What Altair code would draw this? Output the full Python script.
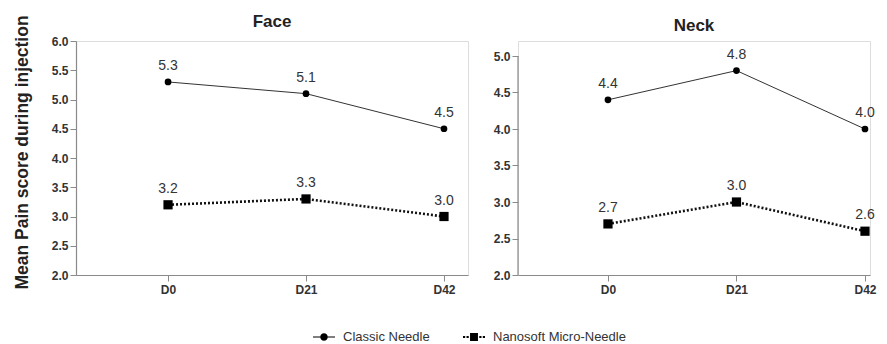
import altair as alt
import pandas as pd

days = ["D0", "D21", "D42"]
series = ["Classic Needle", "Nanosoft Micro-Needle"]
face_classic = [5.3, 5.1, 4.5]
face_nano = [3.2, 3.3, 3.0]
neck_classic = [4.4, 4.8, 4.0]
neck_nano = [2.7, 3.0, 2.6]
face_ticks = [2.0, 2.5, 3.0, 3.5, 4.0, 4.5, 5.0, 5.5, 6.0]
neck_ticks = [2.0, 2.5, 3.0, 3.5, 4.0, 4.5, 5.0]

FONT = "Liberation Sans"
AXIS_COL = "#8a8a8a"
LINE_COL = "#333333"


def frame(classic, nano):
    rows = []
    for i, d in enumerate(days):
        rows.append({"pos": i, "day": d, "series": series[0], "value": classic[i]})
        rows.append({"pos": i, "day": d, "series": series[1], "value": nano[i]})
    return pd.DataFrame(rows)


label_expr = "[" + ",".join("'%s'" % d for d in days) + "][datum.value]"


def panel(df, title, ticks, width, height, xdom, ydom, ytitle, axis_line_rule, legend_layer,
          title_offset):
    x = alt.X("pos:Q", scale=alt.Scale(domain=xdom, nice=False, zero=False),
              axis=alt.Axis(values=list(range(len(days))), labelExpr=label_expr, title=None,
                            grid=False, domainColor=AXIS_COL, tickColor=AXIS_COL, tickSize=6,
                            labelFont=FONT, labelFontWeight="bold", labelFontSize=12,
                            labelColor="#333", labelPadding=3, domainWidth=1.2))
    y = alt.Y("value:Q", scale=alt.Scale(domain=ydom, nice=False, zero=False),
              axis=alt.Axis(values=ticks, format=".1f", title=ytitle, grid=False,
                            domain=not axis_line_rule, domainColor=AXIS_COL, tickColor=AXIS_COL,
                            tickSize=6, labelFont=FONT, labelFontWeight="bold", labelFontSize=12,
                            labelColor="#333", labelPadding=2, domainWidth=1.2,
                            labelOverlap=False,
                            titleFont=FONT, titleFontSize=17.5, titleFontWeight="bold",
                            titleColor="#222", titlePadding=19.5, titleY=111))
    base = alt.Chart(df).encode(x=x, y=y)
    layers = [
        base.transform_filter(alt.datum.series == series[0]).mark_line(color=LINE_COL, strokeWidth=1),
        base.transform_filter(alt.datum.series == series[1]).mark_line(
            color="#111", strokeWidth=2.6, strokeDash=[2, 2]),
        base.transform_filter(alt.datum.series == series[0]).mark_point(
            shape="circle", filled=True, color="black", size=45, opacity=1),
        base.transform_filter(alt.datum.series == series[1]).mark_point(
            shape="square", filled=True, color="black", size=85, opacity=1),
        base.mark_text(dy=-16, font=FONT, fontSize=14, color="#333").encode(
            text=alt.Text("value:Q", format=".1f")),
    ]
    if axis_line_rule:
        layers.append(alt.Chart(pd.DataFrame({"value": [min(ticks)], "value2": [max(ticks)]}))
                      .mark_rule(color=AXIS_COL, strokeWidth=1.2)
                      .encode(x=alt.value(0), y=y, y2="value2:Q"))
    if legend_layer:
        classic_sym = ("M-1,-0.045h2v0.09h-2z"
                       "M0.34,0A0.34,0.34 0 1 1 -0.34,0A0.34,0.34 0 1 1 0.34,0Z")
        nano_sym = ("M-1,-0.1h0.2v0.2h-0.2zM-0.68,-0.1h0.2v0.2h-0.2z"
                    "M-0.36,-0.36h0.72v0.72h-0.72z"
                    "M0.48,-0.1h0.2v0.2h-0.2zM0.8,-0.1h0.2v0.2h-0.2z")
        layers.append(base.mark_point(filled=True, opacity=0, color="black").encode(
            shape=alt.Shape("series:N", scale=alt.Scale(domain=series, range=[classic_sym, nano_sym]),
                            legend=alt.Legend(title=None, orient="none", direction="horizontal",
                                              legendX=237, legendY=285, symbolSize=484,
                                              symbolFillColor="black", symbolStrokeColor="black",
                                              symbolStrokeWidth=0, symbolOpacity=1,
                                              labelFont=FONT, labelFontSize=13, labelColor="#333",
                                              columnPadding=33, labelOffset=8))))
    return alt.layer(*layers).properties(
        width=width, height=height,
        title=alt.TitleParams(title, font=FONT, fontSize=17, fontWeight="bold", color="#222",
                              anchor="middle", offset=title_offset))


face = panel(frame(face_classic, face_nano), "Face", face_ticks, 392, 234,
             [-0.667, 2.174], [2.0, 6.0], "Mean Pain score during injection", False, True, -16.5)
neck = panel(frame(neck_classic, neck_nano), "Neck", neck_ticks, 352, 234,
             [-0.700, 2.039], [2.0, 2.0 + 3.0 * 234 / 219], None, True, False, 6.5)

chart = alt.hconcat(face, neck, spacing=23).properties(
    padding={"left": 5, "top": 4, "right": 0, "bottom": 0}
).configure_view(stroke=None).configure(background="white")

chart.save("out.html", embed_options={"renderer": "svg", "actions": False})
